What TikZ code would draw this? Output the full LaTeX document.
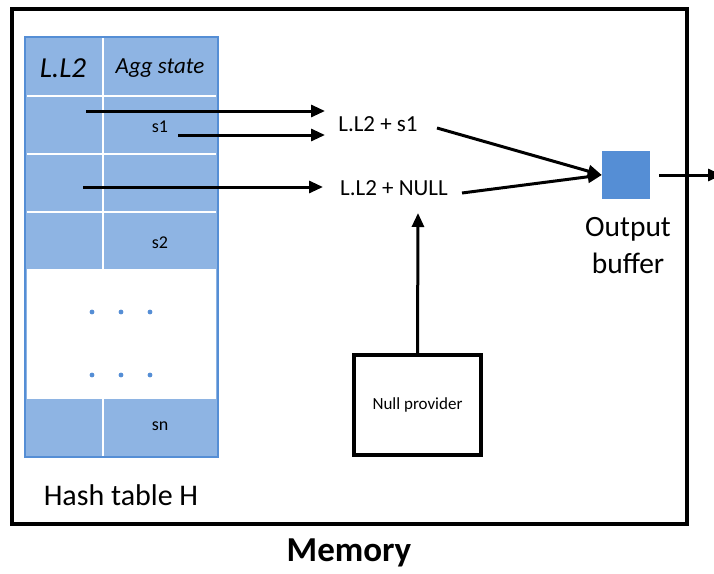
\documentclass[tikz,border=0pt]{standalone}
\usepackage{fontspec}
\setmainfont{Carlito}
\usetikzlibrary{arrows.meta}
\definecolor{cellblue}{HTML}{8EB4E3}
\definecolor{edgeblue}{HTML}{558ED5}
\tikzset{
  conn/.style={line width=3pt,-{Triangle[length=14pt,width=12pt]}},
  sep/.style={white,line width=2.5pt},
  lbl/.style={inner sep=0pt,font=\fontsize{20}{24}\selectfont},
}
\begin{document}
\begin{tikzpicture}[x=1pt,y=-1pt]
\useasboundingbox (0,0) rectangle (714,573);
% memory box
\draw[line width=3.4pt] (12,9) rectangle (687,524);
\node[font=\bfseries\fontsize{35}{38}\selectfont,inner sep=0pt] (mem) at (349,553) {Memory};
% hash table
\fill[cellblue] (25,37) rectangle (218,457);
\fill[white] (27,270) rectangle (216,398);
\draw[sep] (27,96) -- (216,96);
\draw[sep] (27,154) -- (216,154);
\draw[sep] (27,212) -- (216,212);
\draw[sep] (27,270) -- (216,270);
\draw[sep] (27,398) -- (216,398);
\draw[sep] (103,37) -- (103,270);
\draw[sep] (103,398) -- (103,457);
\draw[edgeblue,line width=2.5pt] (25,37) rectangle (218,457);
\foreach \yy in {312,375}{\foreach \xx in {92,121,150}{\fill[edgeblue] (\xx,\yy) circle (2.4pt);}}
\node[inner sep=0pt,font=\itshape\fontsize{29}{32}\selectfont] (hk) at (63,68) {L.L2};
\node[inner sep=0pt,font=\itshape\fontsize{23}{26}\selectfont] (ha) at (160,68) {Agg state};
\node[inner sep=0pt,font=\fontsize{18}{20}\selectfont] (s1) at (160,127) {s1};
\node[inner sep=0pt,font=\fontsize{18}{20}\selectfont] (s2) at (160,243) {s2};
\node[inner sep=0pt,font=\fontsize{18}{20}\selectfont] (sn) at (160,426) {sn};
\node[inner sep=0pt,font=\fontsize{30}{33}\selectfont] (ht) at (121,495) {Hash table H};
% coordinates
\coordinate (r1) at (86,111);
\coordinate (r1e) at (325,111);
\coordinate (s1s) at (178,135);
\coordinate (s1e) at (325,135);
\coordinate (r2) at (83,187);
\coordinate (r2e) at (323,187);
% results
\node[lbl,font=\fontsize{23}{26}\selectfont] (sum1) at (378,124) {L.L2 + s1};
\node[lbl,font=\fontsize{23}{26}\selectfont] (sumn) at (394,188) {L.L2 + NULL};
\draw[conn] (r1) -- (r1e);
\draw[conn] (s1s) -- (s1e);
\draw[conn] (r2) -- (r2e);
% output buffer
\node[fill=edgeblue,minimum width=48pt,minimum height=48pt,inner sep=0pt] (buf) at (626,175) {};
\node[inner sep=0pt,align=center,font=\fontsize{29.5}{37}\selectfont] (buft) at (628,246) {Output\\buffer};
\coordinate (o1) at (437,128);
\coordinate (o2) at (462,193);
\draw[conn] (o1) -- (buf.west);
\draw[conn] (o2) -- (buf.west);
\coordinate (outend) at (722,175);
\draw[conn] (659,175) -- (outend);
% null provider
\node[draw,line width=3.4pt,minimum width=127pt,minimum height=100pt,inner sep=0pt,font=\fontsize{17}{20}\selectfont] (np) at (417.5,405) {Null provider};
\coordinate (nptip) at (418,213);
\draw[conn] (np.north) -- (nptip);
\end{tikzpicture}
\end{document}
